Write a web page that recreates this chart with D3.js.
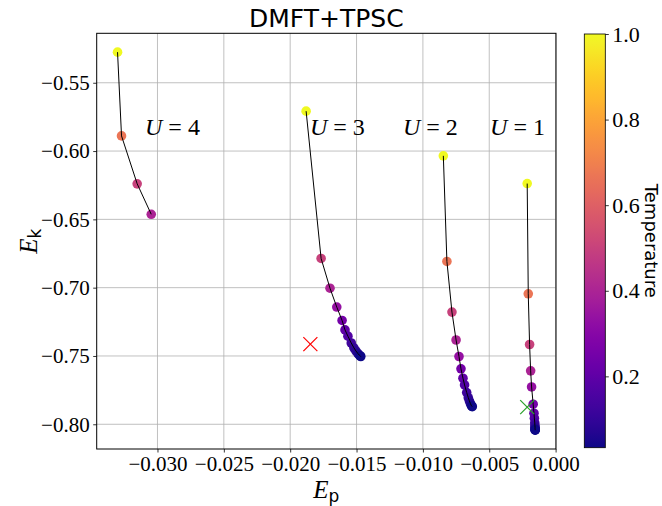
<!DOCTYPE html>
<html>
<head>
<meta charset="utf-8">
<script src="https://cdn.jsdelivr.net/npm/d3@7/dist/d3.min.js"></script>
<style>
  html, body { margin: 0; padding: 0; background: #fff; }
  svg { display: block; }
</style>
</head>
<body>
<svg id="chart" width="662" height="506"></svg>
<script>
// ---------------- data ----------------
const uLabels = ["4", "3", "2", "1"];
const uLabelEp = [-0.03094, -0.01851, -0.01150, -0.00494];
const uLabelEk = -0.5883;

// temperatures (T = 1/beta)
const tempsU1 = [1.0, 0.667, 0.5, 0.4, 0.333, 0.25, 0.2, 0.167, 0.125, 0.1, 0.0833, 0.0667, 0.05, 0.04, 0.0333];
const epU1 = [-0.00214, -0.00206, -0.00196, -0.00188, -0.00181, -0.00169, -0.00163, -0.00160, -0.00157, -0.00156, -0.00155, -0.00155, -0.00154, -0.00154, -0.00154];
const ekU1 = [-0.6238, -0.7045, -0.7416, -0.7609, -0.7727, -0.7853, -0.7919, -0.7955, -0.7990, -0.8010, -0.8022, -0.8032, -0.8038, -0.8041, -0.8043];

const tempsU2 = [1.0, 0.667, 0.5, 0.4, 0.333, 0.25, 0.2, 0.167, 0.125, 0.1, 0.0833, 0.0667, 0.05, 0.04, 0.0333];
const epU2 = [-0.00846, -0.00819, -0.00781, -0.00750, -0.00728, -0.00713, -0.00698, -0.00686, -0.00670, -0.00658, -0.00650, -0.00642, -0.00635, -0.00631, -0.00628];
const ekU2 = [-0.6035, -0.6808, -0.7179, -0.7383, -0.7504, -0.7594, -0.7663, -0.7712, -0.7768, -0.7805, -0.7828, -0.7848, -0.7862, -0.7868, -0.7871];

const tempsU3 = [1.0, 0.5, 0.4, 0.333, 0.25, 0.2, 0.167, 0.125, 0.1, 0.0833, 0.0667, 0.05, 0.04, 0.0333];
const epU3 = [-0.01880, -0.01767, -0.01700, -0.01649, -0.01609, -0.01587, -0.01565, -0.01540, -0.01520, -0.01505, -0.01490, -0.01478, -0.01472, -0.01468];
const ekU3 = [-0.5708, -0.6786, -0.7004, -0.7142, -0.7240, -0.7309, -0.7355, -0.7405, -0.7440, -0.7463, -0.7482, -0.7495, -0.7500, -0.7504];

const tempsU4 = [1.0, 0.667, 0.5, 0.4];
const epU4 = [-0.03301, -0.03271, -0.03153, -0.03047];
const ekU4 = [-0.5276, -0.5889, -0.6240, -0.6463];

const crossEp = [-0.01848, -0.00214];
const crossEk = [-0.7413, -0.7875];
const crossColors = ["#ff0000", "#2ca02c"];

const xTicks = [-0.030, -0.025, -0.020, -0.015, -0.010, -0.005, 0.000];
const yTicks = [-0.80, -0.75, -0.70, -0.65, -0.60, -0.55];
const cTicks = [0.2, 0.4, 0.6, 0.8, 1.0];
const tMin = 0.0333, tMax = 1.0;

const series = [
  {ep: epU1, ek: ekU1, t: tempsU1},
  {ep: epU2, ek: ekU2, t: tempsU2},
  {ep: epU3, ek: ekU3, t: tempsU3},
  {ep: epU4, ek: ekU4, t: tempsU4}
];

// ---------------- layout ----------------
const svg = d3.select("#chart");
const L = 96.7, R = 556, T = 33.3, B = 449;
const x = d3.scaleLinear().domain([-0.03458, 0.00003]).range([L, R]);
const y = d3.scaleLinear().domain([-0.8181, -0.5138]).range([B, T]);
const color = d3.scaleSequential(d3.interpolatePlasma).domain([tMin, tMax]);
const serif = "'Liberation Serif', 'DejaVu Serif', serif";
const sans = "'DejaVu Sans', sans-serif";
const fmtMinus = s => s.replace("-", "\u2212");

// grid
const grid = svg.append("g");
grid.selectAll("line.gx").data(xTicks).join("line")
  .attr("x1", d => x(d)).attr("x2", d => x(d)).attr("y1", T).attr("y2", B)
  .attr("stroke", "#b0b0b0").attr("stroke-width", 0.8);
grid.selectAll("line.gy").data(yTicks).join("line")
  .attr("x1", L).attr("x2", R).attr("y1", d => y(d)).attr("y2", d => y(d))
  .attr("stroke", "#b0b0b0").attr("stroke-width", 0.8);

// axes
const xAxis = d3.axisBottom(x).tickValues(xTicks).tickSize(3.5).tickPadding(3.5)
  .tickFormat(d => fmtMinus(d3.format(".3f")(d)));
const yAxis = d3.axisLeft(y).tickValues(yTicks).tickSize(3.5).tickPadding(3.5)
  .tickFormat(d => fmtMinus(d3.format(".2f")(d)));
const gx = svg.append("g").attr("transform", `translate(0,${B})`).call(xAxis);
const gy = svg.append("g").attr("transform", `translate(${L},0)`).call(yAxis);
[gx, gy].forEach(g => {
  g.select(".domain").remove();
  g.attr("font-family", null).attr("font-size", null);
  g.selectAll(".tick line").attr("stroke", "#000").attr("stroke-width", 0.8);
  g.selectAll(".tick text").style("font-family", serif).style("font-size", "21px").attr("fill", "#000");
});

// frame
svg.append("rect").attr("x", L).attr("y", T).attr("width", R - L).attr("height", B - T)
  .attr("fill", "none").attr("stroke", "#000").attr("stroke-width", 1);

// points and lines
const plot = svg.append("g");
series.forEach(s => {
  const pts = s.ep.map((e, i) => ({ep: e, ek: s.ek[i], t: s.t[i]}));
  plot.append("g").selectAll("circle").data(pts).join("circle")
    .attr("cx", d => x(d.ep)).attr("cy", d => y(d.ek)).attr("r", 4.8)
    .attr("fill", d => color(d.t));
});
series.forEach(s => {
  const pts = s.ep.map((e, i) => ({ep: e, ek: s.ek[i]}));
  plot.append("path").datum(pts)
    .attr("d", d3.line().x(d => x(d.ep)).y(d => y(d.ek)))
    .attr("fill", "none").attr("stroke", "#000").attr("stroke-width", 1);
});

// cross markers
crossEp.forEach((e, i) => {
  const cx = x(e), cy = y(crossEk[i]), h = 7;
  const g = plot.append("g").attr("stroke", crossColors[i]).attr("stroke-width", 1.2);
  g.append("line").attr("x1", cx - h).attr("y1", cy - h).attr("x2", cx + h).attr("y2", cy + h);
  g.append("line").attr("x1", cx - h).attr("y1", cy + h).attr("x2", cx + h).attr("y2", cy - h);
});

// U labels
uLabels.forEach((u, i) => {
  const t = svg.append("text").attr("x", x(uLabelEp[i])).attr("y", y(uLabelEk))
    .style("font-family", serif).style("font-size", "24px").attr("fill", "#000");
  t.append("tspan").style("font-style", "italic").text("U");
  t.append("tspan").text(" = " + u);
});

// title
svg.append("text").attr("x", (L + R) / 2).attr("y", 27).attr("text-anchor", "middle")
  .style("font-family", sans).style("font-size", "25px").attr("fill", "#000").text("DMFT+TPSC");

// axis labels
const xl = svg.append("text").attr("x", (L + R) / 2).attr("y", 498).attr("text-anchor", "middle")
  .style("font-family", serif).style("font-size", "25px").attr("fill", "#000");
xl.append("tspan").style("font-style", "italic").text("E");
xl.append("tspan").style("font-family", sans).style("font-size", "17px").attr("dy", 4).text("p");

const yl = svg.append("text").attr("transform", `translate(37,${(T + B) / 2}) rotate(-90)`)
  .attr("text-anchor", "middle")
  .style("font-family", serif).style("font-size", "25px").attr("fill", "#000");
yl.append("tspan").style("font-style", "italic").text("E");
yl.append("tspan").style("font-family", sans).style("font-size", "17px").attr("dy", 4).text("k");

// colorbar
const cbX = 584.3, cbW = 21, cbT = 34, cbB = 447.7;
const cy = d3.scaleLinear().domain([tMin, tMax]).range([cbB, cbT]);
const defs = svg.append("defs");
const grad = defs.append("linearGradient").attr("id", "plasmaGrad")
  .attr("x1", 0).attr("y1", 1).attr("x2", 0).attr("y2", 0);
d3.range(0, 1.0001, 0.02).forEach(f => {
  grad.append("stop").attr("offset", f).attr("stop-color", d3.interpolatePlasma(f));
});
svg.append("rect").attr("x", cbX).attr("y", cbT).attr("width", cbW).attr("height", cbB - cbT)
  .attr("fill", "url(#plasmaGrad)").attr("stroke", "#000").attr("stroke-width", 0.8);
const cAxis = d3.axisRight(cy).tickValues(cTicks).tickSize(3.5).tickPadding(3.5)
  .tickFormat(d3.format(".1f"));
const gc = svg.append("g").attr("transform", `translate(${cbX + cbW},0)`).call(cAxis);
gc.select(".domain").remove();
gc.attr("font-family", null).attr("font-size", null);
gc.selectAll(".tick line").attr("stroke", "#000").attr("stroke-width", 0.8);
gc.selectAll(".tick text").style("font-family", serif).style("font-size", "22px").attr("fill", "#000");

svg.append("text").attr("transform", `translate(645,${(cbT + cbB) / 2}) rotate(90)`)
  .attr("text-anchor", "middle").style("font-family", sans).style("font-size", "18px")
  .attr("fill", "#000").text("Temperature");
</script>
</body>
</html>
